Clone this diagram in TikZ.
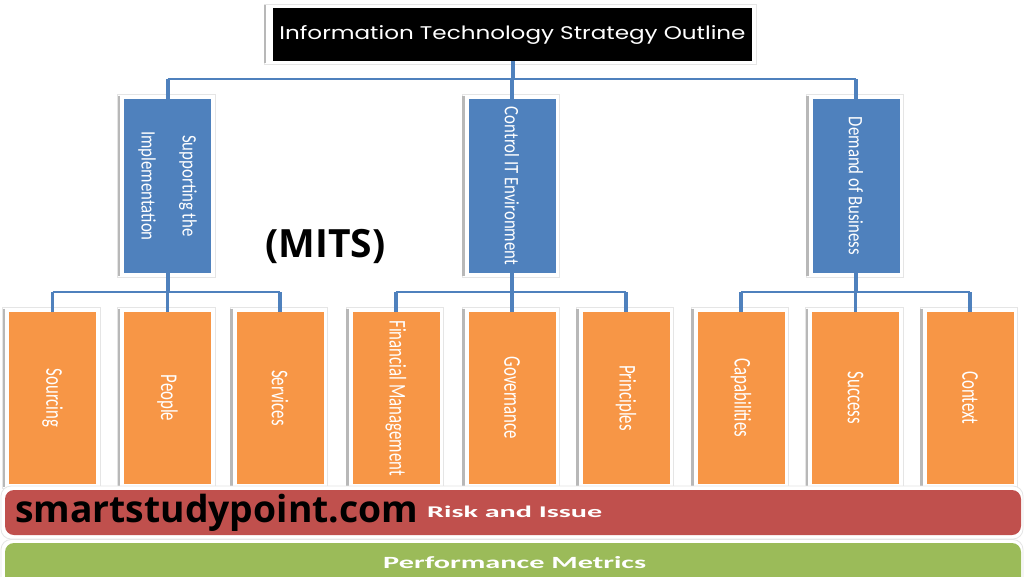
\documentclass[tikz,border=0pt]{standalone}
\usepackage{fontspec}
\usepackage{graphicx}
\usetikzlibrary{backgrounds}
\setmainfont{Carlito}
\newfontfamily\orangefont[FakeStretch=0.7]{Carlito}
\newfontfamily\bluefont[FakeStretch=0.82]{Carlito}
\newfontfamily\titlefont{Poppins}
\newfontfamily\osfont{Open Sans}
\definecolor{itblue}{HTML}{4F81BD}
\definecolor{itorange}{HTML}{F79646}
\definecolor{itred}{HTML}{C0504D}
\definecolor{itgreen}{HTML}{9BBB59}
\tikzset{
  blackbox/.style={fill=black, inner sep=0pt, minimum width=479pt, minimum height=53pt},
  bluebox/.style={fill=itblue, inner sep=0pt, minimum width=87pt, minimum height=174pt},
  orangebox/.style={fill=itorange, inner sep=0pt, minimum width=87pt, minimum height=172pt},
  bluelabel/.style={rotate=-90, text=white, align=center, inner sep=0pt, font=\bluefont\fontsize{20.5}{41}\selectfont},
  orangelabel/.style={rotate=-90, text=white, align=center, inner sep=0pt, font=\orangefont\fontsize{24}{28}\selectfont},
  vline/.style={draw=itblue, line width=4pt},
  hline/.style={draw=itblue, line width=2.5pt},
  shadeframe/.style={fill=white, draw=black!10, line width=0.8pt},
  shadeedge/.style={draw=black!28, line width=2.5pt},
}
\newcommand\boxshade[1]{%
  \path[shadeframe] ([xshift=-6pt,yshift=4pt]#1.north west) rectangle ([xshift=4pt,yshift=-4pt]#1.south east);
  \path[shadeedge] ([xshift=-5pt,yshift=3pt]#1.north west) -- ([xshift=-5pt,yshift=-3pt]#1.south west);}
\begin{document}
\begin{tikzpicture}[x=1pt,y=-1pt]
\useasboundingbox (0,0) rectangle (1024,576);

% title
\node[blackbox] (top) at (512.5,34.5) {};
\node[text=white, inner sep=0pt] (toptext) at (top) {\resizebox{466pt}{14pt}{\titlefont Information Technology Strategy Outline}};

% second level
\node[bluebox] (b1) at (167.5,186) {};
\node[bluebox] (b2) at (512,186) {};
\node[bluebox] (b3) at (856,186) {};
\node[bluelabel] (b1t) at (b1) {Supporting the\\Implementation};
\node[bluelabel] (b2t) at (b2) {Control IT Environment};
\node[bluelabel] (b3t) at (b3) {Demand of Business};

% third level
\node[orangebox] (o1) at (52.5,398) {};
\node[orangebox] (o2) at (167.5,398) {};
\node[orangebox] (o3) at (280,398) {};
\node[orangebox] (o4) at (396,398) {};
\node[orangebox] (o5) at (512,398) {};
\node[orangebox] (o6) at (626,398) {};
\node[orangebox] (o7) at (741,398) {};
\node[orangebox] (o8) at (855.5,398) {};
\node[orangebox] (o9) at (970,398) {};
\node[orangelabel] (o1t) at (o1) {Sourcing};
\node[orangelabel] (o2t) at (o2) {People};
\node[orangelabel] (o3t) at (o3) {Services};
\node[orangelabel] (o4t) at (o4) {Financial Management};
\node[orangelabel] (o5t) at (o5) {Governance};
\node[orangelabel] (o6t) at (o6) {Principles};
\node[orangelabel] (o7t) at (o7) {Capabilities};
\node[orangelabel] (o8t) at (o8) {Success};
\node[orangelabel] (o9t) at (o9) {Context};

% shadow frames
\begin{pgfonlayer}{background}
  \fill[white] (0,0) rectangle (1024,576);
  \path[shadeframe] (264,4) rectangle (756,64);
  \path[shadeedge] (265,5) -- (265,63);
  \foreach \n in {b1,b2,b3,o1,o2,o3,o4,o5,o6,o7,o8,o9} {\boxshade{\n}}
  \path[shadeframe, rounded corners=10pt] (1,486) rectangle (1023,539);
  \path[shadeframe, rounded corners=10pt] (1,539.5) rectangle (1023,600);
\end{pgfonlayer}

% connectors
\coordinate (bus1) at (512,79);
\coordinate (bus2) at (512,292);
\draw[vline] (top.south) -- (top.south |- bus1);
\draw[hline] (b1.north |- bus1) -- (b3.north |- bus1);
\foreach \b in {b1,b2,b3} {\draw[vline] (\b.north |- bus1) -- (\b.north);}
\draw[vline] (b1.south) -- (b1.south |- bus2);
\draw[vline] (b2.south) -- (b2.south |- bus2);
\draw[vline] (b3.south) -- (b3.south |- bus2);
\draw[hline] (o1.north |- bus2) -- (o3.north |- bus2);
\draw[hline] (o4.north |- bus2) -- (o6.north |- bus2);
\draw[hline] (o7.north |- bus2) -- (o9.north |- bus2);
\foreach \o in {o1,o2,o3,o4,o5,o6,o7,o8,o9} {\draw[vline, line width=3.5pt] (\o.north |- bus2) -- (\o.north);}

% bottom bars
\begin{scope}
  \clip (0,0) rectangle (1024,576);
  \node[fill=itred, rounded corners=9pt, inner sep=0pt, minimum width=1016pt, minimum height=45pt] (risk) at (513,512.5) {};
  \node[fill=itgreen, rounded corners=9pt, inner sep=0pt, minimum width=1016pt, minimum height=50pt] (perf) at (513,568) {};
\end{scope}
\node[anchor=base west, inner sep=0pt] (site) at (15,522) {\resizebox{403pt}{!}{\osfont\bfseries smartstudypoint.com}};
\node[anchor=base west, inner sep=0pt, text=white] (risktext) at (427,517) {\resizebox{175pt}{11.5pt}{\bfseries Risk and Issue}};
\node[anchor=base west, inner sep=0pt, text=white] (perftext) at (383,568) {\resizebox{263pt}{12pt}{\bfseries Performance Metrics}};
\node[anchor=base west, inner sep=0pt] (mits) at (265,257) {\resizebox{120pt}{!}{\osfont\bfseries (MITS)}};
\end{tikzpicture}
\end{document}
